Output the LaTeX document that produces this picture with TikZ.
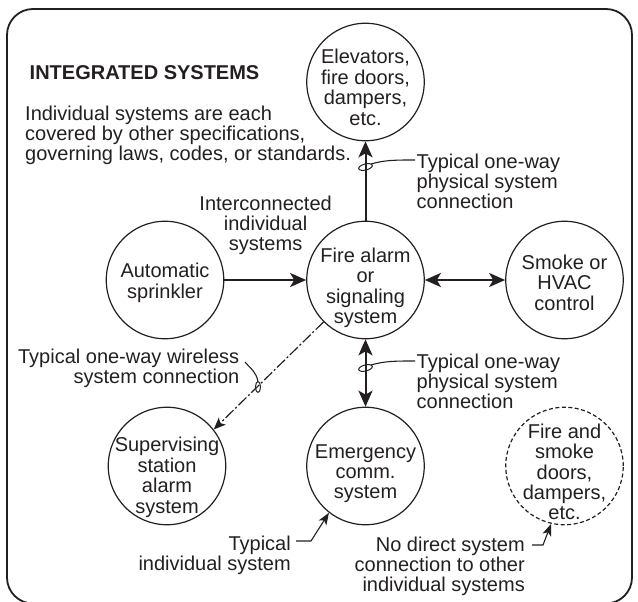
\documentclass[tikz,border=0pt]{standalone}
\usepackage{fontspec}
\setmainfont{Liberation Sans}
\usetikzlibrary{arrows.meta}
\definecolor{ink}{HTML}{231F20}
\newcommand\ctext[2]{\makebox[0pt]{\raisebox{-#1pt}[0pt][0pt]{\begin{tabular}{@{}c@{}}#2\end{tabular}}}}
\tikzset{
 x=1pt,y=-1pt,
 sys/.style={circle,draw=ink,line width=1.2pt,minimum size=117.5pt,inner sep=0pt,text=ink,font=\fontsize{20}{20.2}\selectfont},
 sysd/.style={sys,dashed,dash pattern=on 4pt off 2.5pt},
 lab/.style={text=ink,font=\fontsize{20}{20}\selectfont,inner sep=0pt,align=left,anchor=west},
 labr/.style={lab,align=right,anchor=east},
 conn/.style={draw=ink,line width=2pt,-{Stealth[length=16pt,width=14pt,inset=4pt]}},
 connb/.style={draw=ink,line width=2pt,{Stealth[length=16pt,width=14pt,inset=4pt]}-{Stealth[length=16pt,width=14pt,inset=4pt]}},
 wire/.style={draw=ink,line width=1.2pt,dash pattern=on 11pt off 2.5pt on 2pt off 2.5pt,-{Stealth[length=12pt,width=10pt,inset=3pt]}},
 lead/.style={draw=ink,line width=1.1pt},
 leadar/.style={lead,-{Stealth[length=12pt,width=9pt,inset=3pt]}},
 tie/.style={draw=ink,line width=1pt}
}
\begin{document}
\begin{tikzpicture}
\useasboundingbox (0,0) rectangle (638,602);
\draw[ink,line width=1.8pt,rounded corners=26pt] (7,603.5) rectangle (632,9);
\node[sys] (elev) at (365.5,82) {\ctext{13.5}{Elevators,\\fire doors,\\dampers,\\etc.}};
\node[sys] (fire) at (365.5,280) {\ctext{14}{Fire alarm\\or\\signaling\\system}};
\node[sys] (spr) at (165,280) {\ctext{9.2}{Automatic\\sprinkler}};
\node[sys] (smoke) at (564.5,280) {\ctext{11}{Smoke or\\HVAC\\control}};
\node[sys] (sup) at (167,466) {\ctext{17.5}{Supervising\\station\\alarm\\system}};
\node[sys] (emer) at (365.5,466) {\ctext{13.5}{Emergency\\comm.\\system}};
\node[sysd] (door) at (564.5,466) {\ctext{14}{Fire and\\smoke\\doors,\\dampers,\\etc.}};
\draw[conn] (fire) -- (elev);
\draw[conn] (spr) -- (fire);
\draw[connb] (fire) -- (smoke);
\draw[connb] (fire) -- (emer);
\draw[wire] (fire.-135) -- (sup.38);
\node[lab,font=\fontsize{20}{20}\selectfont\bfseries] (title) at (29.5,73) {INTEGRATED SYSTEMS};
\node[lab] (intro) at (25,135) {Individual systems are each\\covered by other specifications,\\governing laws, codes, or standards.};
\node[lab] (l1) at (416.5,181.5) {Typical one-way\\physical system\\connection};
\node[lab,align=center,anchor=center] (inter) at (265.6,225.5) {Interconnected\\individual\\systems};
\node[labr] (w) at (239.5,368) {Typical one-way wireless\\system connection};
\node[lab] (l2) at (416.5,381.5) {Typical one-way\\physical system\\connection};
\node[labr] (ti) at (291,555) {Typical\\individual system};
\node[labr] (no) at (525,566.5) {No direct system\\connection to other\\individual systems};
\draw[tie] (365.5,167) ellipse[x radius=7,y radius=3,rotate=14];
\draw[tie] (365.5,368) ellipse[x radius=7,y radius=3,rotate=14];
\draw[tie] (258,387) ellipse[x radius=2.5,y radius=5.5];
\coordinate (a1) at (371,164);
\coordinate (a2) at (371,365);
\coordinate (a3) at (258,381.5);
\draw[lead] (a1) .. controls (385,160) and (395,160) .. (415,160);
\draw[lead] (a2) .. controls (385,361) and (395,361) .. (415,361);
\draw[lead] (a3) .. controls (256,372) and (252,370) .. (245,362);
\draw[leadar] (296,541) -- (311,541) -- (emer.-128);
\draw[leadar] (532,545) -- (543,545) -- (door.-103);
\end{tikzpicture}
\end{document}
